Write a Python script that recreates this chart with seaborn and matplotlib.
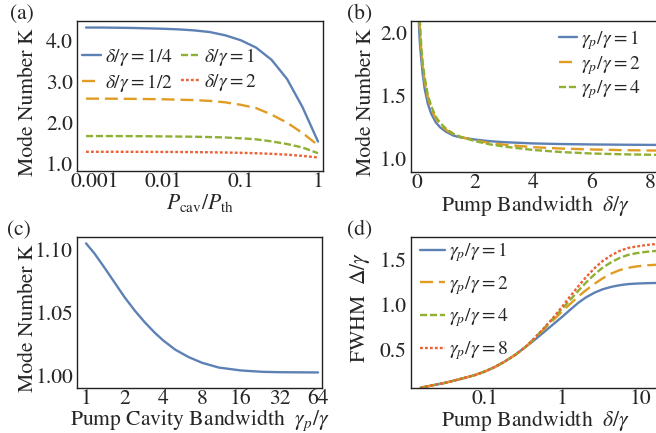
import matplotlib
matplotlib.use("Agg")
import matplotlib.pyplot as plt
from matplotlib.transforms import ScaledTranslation
import numpy as np
import pandas as pd
import seaborn as sns

# ---- (a) mode number K versus intracavity pump power ----
p_ratio = [0.001, 0.00158, 0.00251, 0.00398, 0.00631, 0.01, 0.0158, 0.0251,
           0.0398, 0.0631, 0.1, 0.158, 0.251, 0.398, 0.631, 1.0]
k_d_quarter = [4.32, 4.32, 4.315, 4.31, 4.30, 4.29, 4.275, 4.25,
               4.21, 4.13, 4.01, 3.83, 3.53, 3.06, 2.37, 1.53]
k_d_half = [2.58, 2.58, 2.578, 2.575, 2.57, 2.565, 2.555, 2.545,
            2.525, 2.49, 2.43, 2.35, 2.19, 1.99, 1.74, 1.44]
k_d_one = [1.665, 1.665, 1.664, 1.663, 1.66, 1.657, 1.653, 1.648,
           1.64, 1.63, 1.61, 1.585, 1.535, 1.47, 1.385, 1.245]
k_d_two = [1.28, 1.28, 1.28, 1.279, 1.278, 1.277, 1.275, 1.272,
           1.268, 1.262, 1.255, 1.245, 1.23, 1.21, 1.18, 1.14]
labels_a = [r"$\delta/\gamma=1/4$", r"$\delta/\gamma=1/2$", r"$\delta/\gamma=1$", r"$\delta/\gamma=2$"]

# ---- (b) mode number K versus pump bandwidth ----
delta_b = [0.06, 0.1, 0.15, 0.2, 0.27, 0.38, 0.5, 0.65, 0.8, 1.0, 1.25, 1.5,
           2.0, 2.5, 3.0, 4.0, 5.0, 6.0, 7.0, 8.3]
k_gp1 = [2.12, 1.93, 1.79, 1.67, 1.55, 1.43, 1.35, 1.285, 1.245, 1.21, 1.18, 1.165,
         1.148, 1.135, 1.127, 1.117, 1.112, 1.109, 1.107, 1.105]
k_gp2 = [2.30, 2.05, 1.86, 1.73, 1.61, 1.48, 1.39, 1.315, 1.268, 1.225, 1.19, 1.168,
         1.142, 1.12, 1.107, 1.087, 1.076, 1.069, 1.064, 1.060]
k_gp4 = [2.40, 2.12, 1.90, 1.76, 1.64, 1.50, 1.41, 1.33, 1.28, 1.235, 1.195, 1.17,
         1.135, 1.11, 1.092, 1.065, 1.048, 1.037, 1.031, 1.026]
labels_b = [r"$\gamma_p/\gamma=1$", r"$\gamma_p/\gamma=2$", r"$\gamma_p/\gamma=4$"]

# ---- (c) mode number K versus pump cavity bandwidth ----
gamma_c = [1, 1.16, 1.39, 1.67, 2, 2.4, 2.87, 3.44, 4, 4.94, 6.3, 8, 10.8,
           16, 23.6, 32, 45, 64]
k_c = [1.1053, 1.0974, 1.086, 1.074, 1.0622, 1.0516, 1.0423, 1.0339, 1.0278,
       1.0206, 1.0146, 1.0101, 1.0063, 1.0040, 1.0029, 1.0026, 1.0025, 1.0024]

# ---- (d) FWHM versus pump bandwidth ----
delta_d = [0.015, 0.02, 0.03, 0.04, 0.055, 0.075, 0.1, 0.135, 0.18, 0.25, 0.33,
           0.42, 0.55, 0.74, 1.0, 1.25, 1.6, 2.0, 2.6, 3.3, 4.3, 5.5, 7.0, 9.0,
           12.0, 16.5]
w_gp1 = [0.068, 0.09, 0.12, 0.147, 0.178, 0.21, 0.249, 0.30, 0.36, 0.44, 0.52,
         0.59, 0.675, 0.77, 0.865, 0.94, 1.02, 1.08, 1.135, 1.172, 1.20, 1.218,
         1.23, 1.236, 1.24, 1.243]
w_gp2 = [0.068, 0.09, 0.12, 0.147, 0.178, 0.21, 0.249, 0.30, 0.36, 0.44, 0.52,
         0.605, 0.705, 0.815, 0.925, 1.005, 1.09, 1.16, 1.235, 1.295, 1.35, 1.388,
         1.413, 1.428, 1.44, 1.447]
w_gp4 = [0.068, 0.09, 0.12, 0.147, 0.178, 0.21, 0.249, 0.30, 0.36, 0.44, 0.52,
         0.607, 0.712, 0.835, 0.955, 1.05, 1.155, 1.245, 1.34, 1.415, 1.478, 1.525,
         1.557, 1.577, 1.592, 1.603]
w_gp8 = [0.068, 0.09, 0.12, 0.147, 0.178, 0.21, 0.249, 0.30, 0.36, 0.44, 0.52,
         0.608, 0.715, 0.84, 0.98, 1.09, 1.205, 1.305, 1.41, 1.49, 1.555, 1.604,
         1.635, 1.652, 1.668, 1.68]
labels_d = [r"$\gamma_p/\gamma=1$", r"$\gamma_p/\gamma=2$", r"$\gamma_p/\gamma=4$", r"$\gamma_p/\gamma=8$"]

colors = ["#5E81B5", "#E19C24", "#8FB032", "#EB6235"]
styles = ["-", (0, (5.5, 2.5)), (0, (3, 1.2)), (0, (1.2, 0.9))]

sns.set_theme(style="white")
plt.rcParams["font.family"] = ["STIXGeneral", "DejaVu Serif"]
plt.rcParams["mathtext.fontset"] = "stix"
plt.rcParams["axes.edgecolor"] = "#222222"
plt.rcParams["axes.linewidth"] = 1.0
plt.rcParams["xtick.direction"] = "in"
plt.rcParams["ytick.direction"] = "in"

W, H = 656, 433
fig = plt.figure(figsize=(W / 100, H / 100), dpi=100)


def px_axes(l, t, r, b):
    return fig.add_axes([l / W, 1 - b / H, (r - l) / W, (b - t) / H])


ax_a = px_axes(77, 21, 323, 171)
ax_b = px_axes(411, 21, 660, 172)
ax_c = px_axes(77, 237, 322, 388)
ax_d = px_axes(411, 237, 660, 388)

TICK_FS = 15.5
LAB_FS = 15.6
LEG_FS = 14
LW = 1.7


def draw(ax, x, y, i, label=None):
    sns.lineplot(x=x, y=y, ax=ax, color=colors[i], linestyle=styles[i], lw=LW,
                 label=label, sort=False, legend=False)


def style_axes(ax):
    ax.tick_params(which="both", labelsize=TICK_FS, length=3, width=0.8,
                   color="#444444")
    ax.tick_params(axis="x", pad=1)
    ax.tick_params(axis="y", pad=3)
    ax.tick_params(which="minor", length=0)
    for s in ax.spines.values():
        s.set_color("#222222")


# (a)
for i, (ys, lab) in enumerate(zip([k_d_quarter, k_d_half, k_d_one, k_d_two], labels_a)):
    draw(ax_a, p_ratio, ys, i, lab)
ax_a.set_xscale("log")
ax_a.set_xlim(0.000765, 1.16)
ax_a.set_ylim(0.81, 4.48)
ax_a.set_xticks([0.001, 0.01, 0.1, 1])
ax_a.set_xticklabels(["0.001", "0.01", "0.1", "1"])
ax_a.set_yticks([1, 2, 3, 4])
ax_a.set_yticklabels(["1.0", "2.0", "3.0", "4.0"])
ax_a.set_xlabel(r"$P_{\rm cav}/P_{\rm th}$", fontsize=LAB_FS, labelpad=0)
ax_a.set_ylabel("Mode Number K", fontsize=LAB_FS)
ax_a.yaxis.set_label_coords(-0.158, 0.46)
ax_a.legend(ncol=2, loc="upper left", bbox_to_anchor=(0.02, 0.835), frameon=False,
            fontsize=LEG_FS, handlelength=1.0, handletextpad=0.2, columnspacing=0.4,
            labelspacing=0.2, borderpad=0, borderaxespad=0)

# (b)
for i, (ys, lab) in enumerate(zip([k_gp1, k_gp2, k_gp4], labels_b)):
    draw(ax_b, delta_b, ys, i, lab)
ax_b.set_xlim(-0.2, 8.35)
ax_b.set_ylim(0.89, 2.09)
ax_b.set_xticks([0, 2, 4, 6, 8])
ax_b.set_yticks([1.0, 1.5, 2.0])
ax_b.set_yticklabels(["1.0", "1.5", "2.0"])
ax_b.spines["right"].set_visible(False)
ax_b.set_xlabel(r"Pump Bandwidth  $\delta/\gamma$", fontsize=LAB_FS, labelpad=0)
ax_b.set_ylabel("Mode Number K", fontsize=LAB_FS)
ax_b.yaxis.set_label_coords(-0.142, 0.46)
ax_b.legend(loc="upper left", bbox_to_anchor=(0.595, 0.955), frameon=False,
            fontsize=LEG_FS, handlelength=0.9, handletextpad=0.2,
            labelspacing=0.1, borderpad=0, borderaxespad=0)

# (c)
draw(ax_c, gamma_c, k_c, 0)
ax_c.set_xscale("log", base=2)
ax_c.set_xlim(0.85, 68.7)
ax_c.set_ylim(0.990, 1.1104)
ax_c.set_xticks([1, 2, 4, 8, 16, 32, 64])
ax_c.set_xticklabels(["1", "2", "4", "8", "16", "32", "64"])
ax_c.set_yticks([1.00, 1.05, 1.10])
ax_c.set_yticklabels(["1.00", "1.05", "1.10"])
ax_c.set_xlabel(r"Pump Cavity Bandwidth  $\gamma_p/\gamma$", fontsize=LAB_FS, labelpad=-1)
ax_c.set_ylabel("Mode Number K", fontsize=LAB_FS)
ax_c.yaxis.set_label_coords(-0.158, 0.465)

# (d)
for i, (ys, lab) in enumerate(zip([w_gp1, w_gp2, w_gp4, w_gp8], labels_d)):
    draw(ax_d, delta_d, ys, i, lab)
ax_d.set_xscale("log")
ax_d.set_xlim(0.0113, 18.0)
ax_d.set_ylim(0.065, 1.758)
ax_d.set_xticks([0.1, 1, 10])
ax_d.set_xticklabels(["0.1", "1", "10"])
ax_d.set_yticks([0.5, 1.0, 1.5])
ax_d.set_yticklabels(["0.5", "1.0", "1.5"])
ax_d.spines["right"].set_visible(False)
ax_d.set_xlabel(r"Pump Bandwidth  $\delta/\gamma$", fontsize=LAB_FS, labelpad=-1)
ax_d.set_ylabel(r"FWHM  $\Delta/\gamma$", fontsize=LAB_FS)
ax_d.yaxis.set_label_coords(-0.158, 0.535)
ax_d.legend(loc="upper left", bbox_to_anchor=(0.035, 0.978), frameon=False,
            fontsize=LEG_FS, handlelength=1.3, handletextpad=0.2,
            labelspacing=0.5, borderpad=0, borderaxespad=0)

for ax in (ax_a, ax_b, ax_c, ax_d):
    style_axes(ax)
    for lab in ax.get_xticklabels() + ax.get_yticklabels():
        lab.set_fontsize(TICK_FS)

# the leftmost power label sits a little right of its tick
first = ax_a.get_xticklabels()[0]
first.set_transform(first.get_transform() + ScaledTranslation(9 / 100, 0, fig.dpi_scale_trans))

for txt, x, y in [("(a)", 10, 14), ("(b)", 347, 14), ("(c)", 7, 230), ("(d)", 347, 230)]:
    fig.text(x / W, 1 - y / H, txt, fontsize=15.5, va="center", ha="left")

fig.savefig("out.png", dpi=100)
